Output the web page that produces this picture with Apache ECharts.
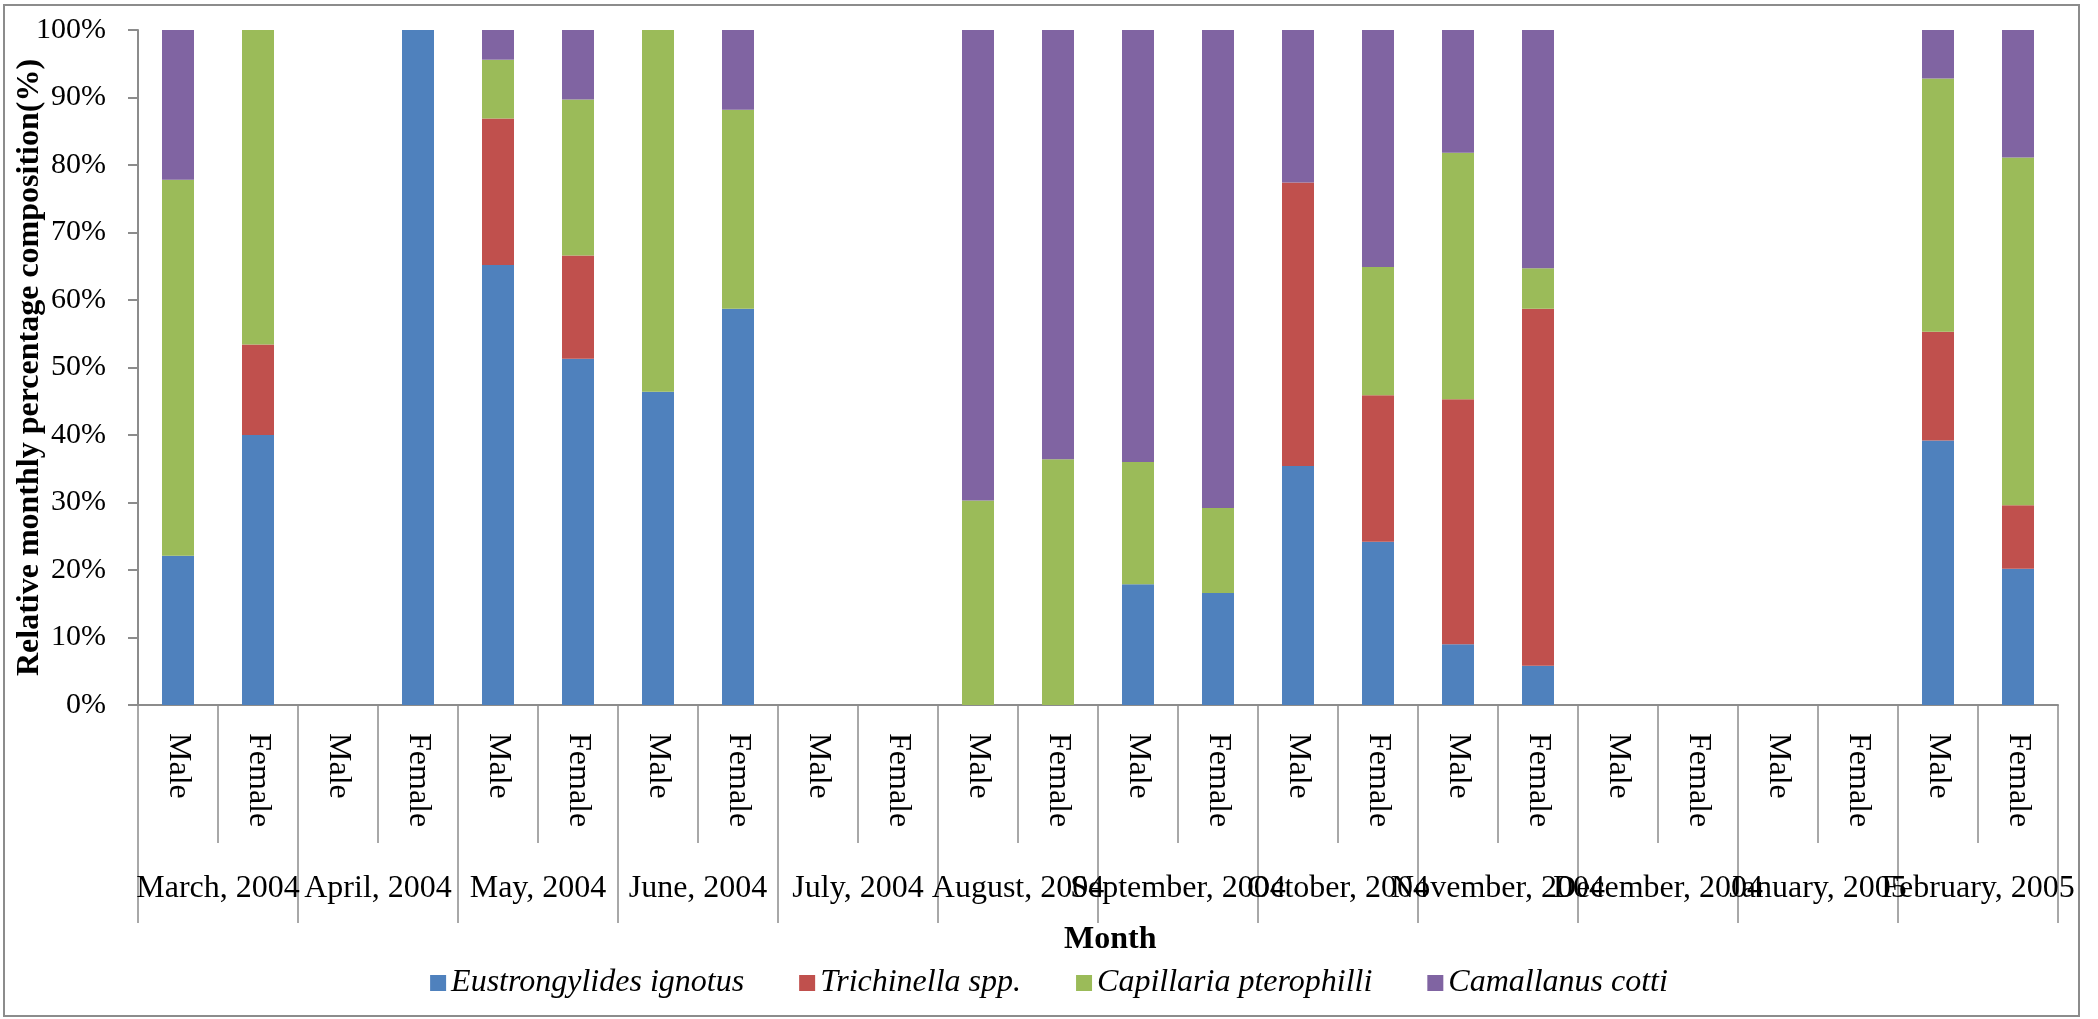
<!DOCTYPE html>
<html>
<head>
<meta charset="utf-8">
<title>Relative monthly percentage composition</title>
<script src="https://cdn.jsdelivr.net/npm/echarts@6/dist/echarts.min.js"></script>
<style>
  html, body { margin: 0; padding: 0; background: #fff; }
  #chart { width: 2098px; height: 1019px; }
</style>
</head>
<body>
<div id="chart"></div>
<script>
// 月份 (一级分类)
const months = ['March, 2004', 'April, 2004', 'May, 2004', 'June, 2004', 'July, 2004', 'August, 2004',
  'September, 2004', 'October, 2004', 'November, 2004', 'December, 2004', 'January, 2005', 'February, 2005']
// 性别 (二级分类)
const sexes = []
months.forEach(() => { sexes.push('Male', 'Female') })

const seriesNames = ['Eustrongylides ignotus', 'Trichinella spp.', 'Capillaria pterophilli', 'Camallanus cotti']
const eustrongylides = [22.1, 40.0, 0, 100, 65.2, 51.3, 46.4, 58.7, 0, 0, 0, 0, 17.9, 16.6, 35.4, 24.2, 9.0, 5.8, 0, 0, 0, 0, 39.2, 20.2]
const trichinella = [0, 13.4, 0, 0, 21.7, 15.3, 0, 0, 0, 0, 0, 0, 0, 0, 42.0, 21.7, 36.3, 52.9, 0, 0, 0, 0, 16.1, 9.4]
const capillaria = [55.7, 46.6, 0, 0, 8.7, 23.1, 53.6, 29.5, 0, 0, 30.3, 36.4, 18.1, 12.6, 0, 19.0, 36.5, 6.0, 0, 0, 0, 0, 37.5, 51.5]
const camallanus = [22.2, 0, 0, 0, 4.4, 10.3, 0, 11.8, 0, 0, 69.7, 63.6, 64.0, 70.8, 22.6, 35.1, 18.2, 35.3, 0, 0, 0, 0, 7.2, 18.9]
const colors = ['#4F81BD', '#C0504D', '#9BBB59', '#8064A2']

const font = 'Liberation Serif'
const gray = '#8c8c8c'

const chart = echarts.init(document.getElementById('chart'))
const values = [eustrongylides, trichinella, capillaria, camallanus]

const option = {
  animation: false,
  textStyle: { fontFamily: font, color: '#000' },
  // 外框
  graphic: [{
    type: 'rect',
    shape: { x: 4, y: 5, width: 2075, height: 1011 },
    style: { fill: 'none', stroke: gray, lineWidth: 2 }
  }],
  title: {
    text: 'Month',
    left: 1064,
    top: 924,
    padding: 0,
    textStyle: { fontFamily: font, fontSize: 32, fontWeight: 'bold', color: '#000' }
  },
  legend: {
    data: seriesNames,
    left: 'center',
    top: 962,
    icon: 'rect',
    itemWidth: 16,
    itemHeight: 16,
    itemGap: 55,
    textStyle: { fontFamily: font, fontSize: 32, fontStyle: 'italic', color: '#000' }
  },
  // 固定绘图区, 不让标签挤动网格
  grid: { left: 138, right: 40, top: 30, bottom: 314, containLabel: false, outerBoundsMode: 'none' },
  xAxis: [
    {
      type: 'category',
      data: sexes,
      axisLine: { show: true, lineStyle: { color: gray, width: 2 } },
      axisTick: { show: true, alignWithLabel: false, interval: 0, length: 138, lineStyle: { color: gray, width: 1.5 } },
      axisLabel: { interval: 0, rotate: -90, margin: 28, fontSize: 32, fontFamily: font, color: '#000' }
    },
    {
      // 月份标签层
      type: 'category',
      position: 'bottom',
      data: months,
      axisLine: { show: false },
      axisTick: { show: true, alignWithLabel: false, interval: 0, length: 218, lineStyle: { color: gray, width: 1.5 } },
      axisLabel: { interval: 0, margin: 168, fontSize: 32, fontFamily: font, color: '#000' }
    }
  ],
  yAxis: {
    type: 'value',
    min: 0,
    max: 100,
    interval: 10,
    name: 'Relative monthly percentage composition(%)',
    nameLocation: 'middle',
    nameGap: 92,
    nameMoveOverlap: false,
    nameTextStyle: { fontFamily: font, fontSize: 32, fontWeight: 'bold', color: '#000' },
    axisLine: { show: true, lineStyle: { color: gray, width: 2 } },
    axisTick: { show: true, length: 10, lineStyle: { color: gray, width: 2 } },
    axisLabel: { formatter: '{value}%', margin: 32, fontSize: 30, fontFamily: font, color: '#000' },
    splitLine: { show: false }
  },
  series: seriesNames.map((name, i) => ({
    name: name,
    type: 'bar',
    stack: 'total',
    barWidth: 32,
    xAxisIndex: 0,
    itemStyle: { color: colors[i] },
    data: values[i]
  }))
}

chart.setOption(option)
</script>
</body>
</html>
